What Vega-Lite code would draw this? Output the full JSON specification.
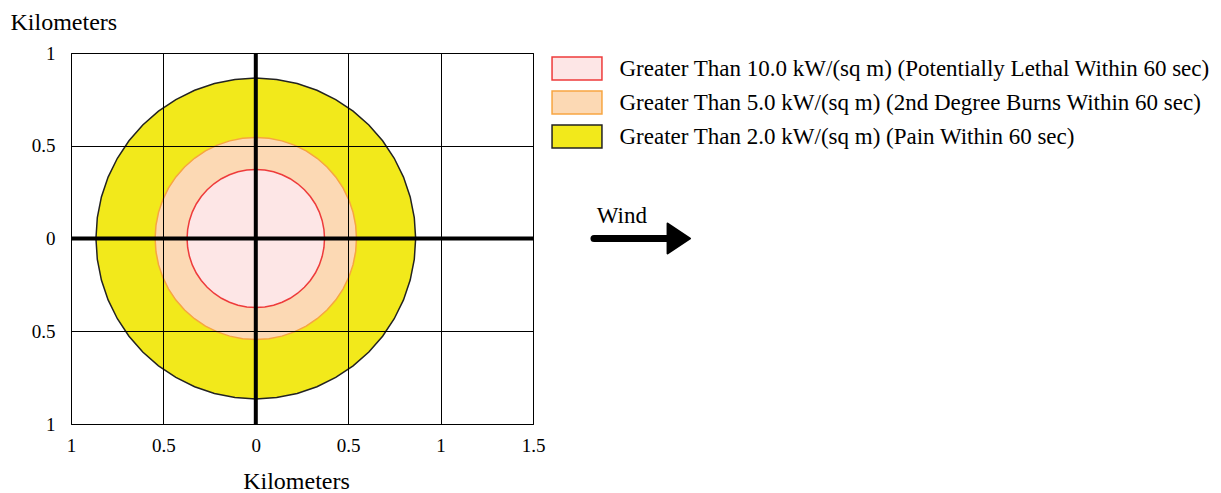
{
  "$schema": "https://vega.github.io/schema/vega-lite/v6.json",
  "width": 462,
  "height": 371,
  "autosize": "none",
  "padding": {"left": 71, "top": 53, "right": 688, "bottom": 69},
  "background": "white",
  "config": {
    "font": "Liberation Serif",
    "view": {"stroke": "black", "strokeWidth": 1},
    "axis": {"labelFont": "Liberation Serif", "titleFont": "Liberation Serif", "labelColor": "black", "titleColor": "black", "titleFontWeight": "normal", "labelFontSize": 19, "titleFontSize": 24}
  },
  "datasets": {
    "yellow": [
      {"zone": "2.0", "x": -0.865, "top": 0, "bottom": 0},
      {"zone": "2.0", "x": -0.8576, "top": 0.1129, "bottom": -0.1129},
      {"zone": "2.0", "x": -0.8355, "top": 0.2239, "bottom": -0.2239},
      {"zone": "2.0", "x": -0.7992, "top": 0.331, "bottom": -0.331},
      {"zone": "2.0", "x": -0.7491, "top": 0.4325, "bottom": -0.4325},
      {"zone": "2.0", "x": -0.6863, "top": 0.5266, "bottom": -0.5266},
      {"zone": "2.0", "x": -0.6117, "top": 0.6117, "bottom": -0.6117},
      {"zone": "2.0", "x": -0.5266, "top": 0.6863, "bottom": -0.6863},
      {"zone": "2.0", "x": -0.4325, "top": 0.7491, "bottom": -0.7491},
      {"zone": "2.0", "x": -0.331, "top": 0.7992, "bottom": -0.7992},
      {"zone": "2.0", "x": -0.2239, "top": 0.8355, "bottom": -0.8355},
      {"zone": "2.0", "x": -0.1129, "top": 0.8576, "bottom": -0.8576},
      {"zone": "2.0", "x": 0, "top": 0.865, "bottom": -0.865},
      {"zone": "2.0", "x": 0.1129, "top": 0.8576, "bottom": -0.8576},
      {"zone": "2.0", "x": 0.2239, "top": 0.8355, "bottom": -0.8355},
      {"zone": "2.0", "x": 0.331, "top": 0.7992, "bottom": -0.7992},
      {"zone": "2.0", "x": 0.4325, "top": 0.7491, "bottom": -0.7491},
      {"zone": "2.0", "x": 0.5266, "top": 0.6863, "bottom": -0.6863},
      {"zone": "2.0", "x": 0.6117, "top": 0.6117, "bottom": -0.6117},
      {"zone": "2.0", "x": 0.6863, "top": 0.5266, "bottom": -0.5266},
      {"zone": "2.0", "x": 0.7491, "top": 0.4325, "bottom": -0.4325},
      {"zone": "2.0", "x": 0.7992, "top": 0.331, "bottom": -0.331},
      {"zone": "2.0", "x": 0.8355, "top": 0.2239, "bottom": -0.2239},
      {"zone": "2.0", "x": 0.8576, "top": 0.1129, "bottom": -0.1129},
      {"zone": "2.0", "x": 0.865, "top": 0, "bottom": 0}
    ],
    "orange": [
      {"zone": "5.0", "x": -0.545, "top": 0, "bottom": 0},
      {"zone": "5.0", "x": -0.5403, "top": 0.0711, "bottom": -0.0711},
      {"zone": "5.0", "x": -0.5264, "top": 0.1411, "bottom": -0.1411},
      {"zone": "5.0", "x": -0.5035, "top": 0.2086, "bottom": -0.2086},
      {"zone": "5.0", "x": -0.472, "top": 0.2725, "bottom": -0.2725},
      {"zone": "5.0", "x": -0.4324, "top": 0.3318, "bottom": -0.3318},
      {"zone": "5.0", "x": -0.3854, "top": 0.3854, "bottom": -0.3854},
      {"zone": "5.0", "x": -0.3318, "top": 0.4324, "bottom": -0.4324},
      {"zone": "5.0", "x": -0.2725, "top": 0.472, "bottom": -0.472},
      {"zone": "5.0", "x": -0.2086, "top": 0.5035, "bottom": -0.5035},
      {"zone": "5.0", "x": -0.1411, "top": 0.5264, "bottom": -0.5264},
      {"zone": "5.0", "x": -0.0711, "top": 0.5403, "bottom": -0.5403},
      {"zone": "5.0", "x": 0, "top": 0.545, "bottom": -0.545},
      {"zone": "5.0", "x": 0.0711, "top": 0.5403, "bottom": -0.5403},
      {"zone": "5.0", "x": 0.1411, "top": 0.5264, "bottom": -0.5264},
      {"zone": "5.0", "x": 0.2086, "top": 0.5035, "bottom": -0.5035},
      {"zone": "5.0", "x": 0.2725, "top": 0.472, "bottom": -0.472},
      {"zone": "5.0", "x": 0.3318, "top": 0.4324, "bottom": -0.4324},
      {"zone": "5.0", "x": 0.3854, "top": 0.3854, "bottom": -0.3854},
      {"zone": "5.0", "x": 0.4324, "top": 0.3318, "bottom": -0.3318},
      {"zone": "5.0", "x": 0.472, "top": 0.2725, "bottom": -0.2725},
      {"zone": "5.0", "x": 0.5035, "top": 0.2086, "bottom": -0.2086},
      {"zone": "5.0", "x": 0.5264, "top": 0.1411, "bottom": -0.1411},
      {"zone": "5.0", "x": 0.5403, "top": 0.0711, "bottom": -0.0711},
      {"zone": "5.0", "x": 0.545, "top": 0, "bottom": 0}
    ],
    "red": [
      {"zone": "10.0", "x": -0.372, "top": 0, "bottom": 0},
      {"zone": "10.0", "x": -0.3688, "top": 0.0486, "bottom": -0.0486},
      {"zone": "10.0", "x": -0.3593, "top": 0.0963, "bottom": -0.0963},
      {"zone": "10.0", "x": -0.3437, "top": 0.1424, "bottom": -0.1424},
      {"zone": "10.0", "x": -0.3222, "top": 0.186, "bottom": -0.186},
      {"zone": "10.0", "x": -0.2951, "top": 0.2265, "bottom": -0.2265},
      {"zone": "10.0", "x": -0.263, "top": 0.263, "bottom": -0.263},
      {"zone": "10.0", "x": -0.2265, "top": 0.2951, "bottom": -0.2951},
      {"zone": "10.0", "x": -0.186, "top": 0.3222, "bottom": -0.3222},
      {"zone": "10.0", "x": -0.1424, "top": 0.3437, "bottom": -0.3437},
      {"zone": "10.0", "x": -0.0963, "top": 0.3593, "bottom": -0.3593},
      {"zone": "10.0", "x": -0.0486, "top": 0.3688, "bottom": -0.3688},
      {"zone": "10.0", "x": 0, "top": 0.372, "bottom": -0.372},
      {"zone": "10.0", "x": 0.0486, "top": 0.3688, "bottom": -0.3688},
      {"zone": "10.0", "x": 0.0963, "top": 0.3593, "bottom": -0.3593},
      {"zone": "10.0", "x": 0.1424, "top": 0.3437, "bottom": -0.3437},
      {"zone": "10.0", "x": 0.186, "top": 0.3222, "bottom": -0.3222},
      {"zone": "10.0", "x": 0.2265, "top": 0.2951, "bottom": -0.2951},
      {"zone": "10.0", "x": 0.263, "top": 0.263, "bottom": -0.263},
      {"zone": "10.0", "x": 0.2951, "top": 0.2265, "bottom": -0.2265},
      {"zone": "10.0", "x": 0.3222, "top": 0.186, "bottom": -0.186},
      {"zone": "10.0", "x": 0.3437, "top": 0.1424, "bottom": -0.1424},
      {"zone": "10.0", "x": 0.3593, "top": 0.0963, "bottom": -0.0963},
      {"zone": "10.0", "x": 0.3688, "top": 0.0486, "bottom": -0.0486},
      {"zone": "10.0", "x": 0.372, "top": 0, "bottom": 0}
    ],
    "wind": [{"x": 1.83, "x2": 2.26, "y": 0, "label": "Wind", "tx": 1.845, "ty": 0.085, "hx": 2.285}]
  },
  "encoding": {
    "x": {"field": "x", "type": "quantitative", "scale": {"domain": [-1, 1.5], "nice": false, "zero": false},
      "axis": {"title": "Kilometers", "values": [-1, -0.5, 0, 0.5, 1, 1.5], "labelExpr": "abs(datum.value)", "grid": true, "gridColor": "black", "gridOpacity": 1, "gridWidth": 1, "domain": false, "ticks": false, "labelPadding": 12, "titlePadding": 14, "titleX": 225, "zindex": 1, "labelFlush": false}}
  },
  "layer": [
    {
      "data": {"name": "yellow"},
      "mark": {"type": "area", "strokeWidth": 1.5, "fillOpacity": 1, "interpolate": "linear"},
      "encoding": {
        "y": {"field": "top", "type": "quantitative", "scale": {"domain": [-1, 1], "nice": false, "zero": false},
          "axis": {"title": "Kilometers", "values": [-1, -0.5, 0, 0.5, 1], "labelExpr": "abs(datum.value)", "grid": true, "gridColor": "black", "gridOpacity": 1, "gridWidth": 1, "domain": false, "ticks": false, "labelPadding": 16, "zindex": 1, "titleAngle": 0, "titleAlign": "left", "titleBaseline": "alphabetic", "titleX": -61, "titleY": -24, "labelFlush": false}},
        "y2": {"field": "bottom"},
        "fill": {"field": "zone", "type": "nominal", "scale": {"domain": ["10.0", "5.0", "2.0"], "range": ["#fde6e6", "#fcd9b4", "#f2e91b"]},
          "legend": {"title": null, "orient": "none", "legendX": 493.5, "legendY": 3, "symbolType": "M-2.17,-1H2.17V1H-2.17Z", "symbolSize": 529, "symbolStrokeWidth": 1.5, "labelFontSize": 23, "labelFont": "Liberation Serif", "labelColor": "black", "labelOffset": 30, "rowPadding": 5,
            "labelExpr": "datum.value == '10.0' ? 'Greater Than 10.0 kW/(sq m) (Potentially Lethal Within 60 sec)' : datum.value == '5.0' ? 'Greater Than 5.0 kW/(sq m) (2nd Degree Burns Within 60 sec)' : 'Greater Than 2.0 kW/(sq m) (Pain Within 60 sec)'", "labelLimit": 800}},
        "stroke": {"field": "zone", "type": "nominal", "scale": {"domain": ["10.0", "5.0", "2.0"], "range": ["#ee3b3b", "#f7a541", "#222222"]}, "legend": null}
      }
    },
    {
      "data": {"name": "orange"},
      "mark": {"type": "area", "strokeWidth": 1.5, "fillOpacity": 1},
      "encoding": {
        "y": {"field": "top", "type": "quantitative"},
        "y2": {"field": "bottom"},
        "fill": {"field": "zone", "type": "nominal"},
        "stroke": {"field": "zone", "type": "nominal"}
      }
    },
    {
      "data": {"name": "red"},
      "mark": {"type": "area", "strokeWidth": 1.5, "fillOpacity": 1},
      "encoding": {
        "y": {"field": "top", "type": "quantitative"},
        "y2": {"field": "bottom"},
        "fill": {"field": "zone", "type": "nominal"},
        "stroke": {"field": "zone", "type": "nominal"}
      }
    },
    {
      "data": {"values": [{"v": 0}]},
      "mark": {"type": "rule", "color": "black", "strokeWidth": 4},
      "encoding": {"x": {"field": "v", "type": "quantitative"}}
    },
    {
      "data": {"values": [{"v": 0}]},
      "mark": {"type": "rule", "color": "black", "strokeWidth": 4},
      "encoding": {"x": null, "y": {"field": "v", "type": "quantitative"}}
    },
    {
      "data": {"name": "wind"},
      "mark": {"type": "rule", "color": "black", "strokeWidth": 7, "strokeCap": "round", "clip": false},
      "encoding": {"x": {"field": "x", "type": "quantitative"}, "x2": {"field": "x2"}, "y": {"field": "y", "type": "quantitative"}}
    },
    {
      "data": {"name": "wind"},
      "mark": {"type": "point", "shape": "M-0.7,-1L0.8,0L-0.7,1Z", "size": 900, "filled": true, "color": "black", "opacity": 1, "strokeJoin": "round", "strokeWidth": 2, "stroke": "black", "clip": false},
      "encoding": {"x": {"field": "hx", "type": "quantitative"}, "y": {"field": "y", "type": "quantitative"}}
    },
    {
      "data": {"name": "wind"},
      "mark": {"type": "text", "align": "left", "baseline": "alphabetic", "fontSize": 23, "font": "Liberation Serif", "color": "black"},
      "encoding": {"x": {"field": "tx", "type": "quantitative"}, "y": {"field": "ty", "type": "quantitative"}, "text": {"field": "label"}}
    }
  ]
}
